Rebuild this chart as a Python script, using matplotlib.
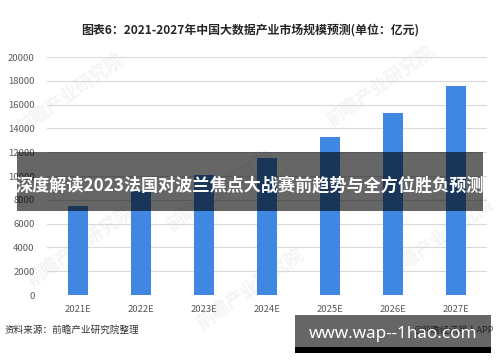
import matplotlib
matplotlib.use('Agg')
import matplotlib.pyplot as plt
from matplotlib.patches import Rectangle

plt.rcParams['font.family'] = ['Noto Sans CJK SC', 'DejaVu Sans']

# data (unit: 亿元)
years = ['2021E', '2022E', '2023E', '2024E', '2025E', '2026E', '2027E']
market_size = [7500, 8750, 10050, 11550, 13300, 15300, 17600]
y_ticks = [0, 2000, 4000, 6000, 8000, 10000, 12000, 14000, 16000, 18000, 20000]

title = '图表6：2021-2027年中国大数据产业市场规模预测(单位：亿元)'
source = '资料来源：前瞻产业研究院整理'
credit = '@前瞻经济学人APP'
banner = '深度解读2023法国对波兰焦点大战赛前趋势与全方位胜负预测'
site = 'www.wap--1hao.com'


def main():
    fig = plt.figure(figsize=(5, 3.62), dpi=100)
    ax = fig.add_axes([0.094, 0.185, 0.88, 0.6575])
    ax.patch.set_visible(False)

    x = range(len(years))
    ax.bar(x, market_size, width=0.32, color='#3f87e0', zorder=3)

    ax.set_ylim(0, 20000)
    ax.set_xlim(-0.5, len(years) - 0.5)
    ax.set_yticks(y_ticks)
    ax.set_yticklabels([str(v) for v in y_ticks])
    ax.set_xticks(list(x))
    ax.set_xticklabels(years)
    ax.tick_params(axis='both', length=0, labelsize=6.8, colors='#595959')
    ax.tick_params(axis='y', pad=9)
    ax.tick_params(axis='x', pad=7)
    ax.grid(axis='y', color='#d9d9d9', linewidth=0.8, zorder=0)
    for s in ax.spines.values():
        s.set_visible(False)

    # faint watermarks behind the plot
    for wx, wy in [(0.14, 0.74), (0.44, 0.47), (0.76, 0.76), (0.16, 0.32), (0.5, 0.2), (0.88, 0.34)]:
        fig.text(wx, wy, '前瞻产业研究院', fontsize=13, color='#f4f4f4', rotation=35,
                 ha='center', va='center', zorder=-1, fontweight='bold')

    fig.text(0.5, 0.917, title, ha='center', va='center', fontsize=8.6,
             fontweight='bold', color='#262626')
    fig.text(0.01, 0.088, source, ha='left', va='center', fontsize=6.9, color='#333333')
    fig.text(0.826, 0.088, credit, ha='left', va='center', fontsize=6.6, color='#595959')

    # dark overlay banner across the middle
    fig.patches.append(Rectangle((17 / 500, 1 - 211 / 362), 466 / 500, 59 / 362,
                                 transform=fig.transFigure, facecolor='black',
                                 alpha=0.6, zorder=5))
    fig.text(0.5, 1 - 185 / 362, banner, ha='center', va='center', fontsize=12.3,
             fontweight='bold', color='white', zorder=6)

    # site banner bottom right
    fig.patches.append(Rectangle((295 / 500, 1 - 347 / 362), 196 / 500, 32 / 362,
                                 transform=fig.transFigure, facecolor='black',
                                 alpha=0.6, zorder=5))
    fig.patches.append(Rectangle((295 / 500, 1 - 353 / 362), 196 / 500, 6 / 362,
                                 transform=fig.transFigure, facecolor='black', zorder=5))
    fig.text(393 / 500, 1 - 334 / 362, site, ha='center', va='center', fontsize=12.3,
             fontweight='bold', color='white', zorder=6, family=['Noto Sans', 'DejaVu Sans'])

    fig.savefig('out.png', dpi=100)


if __name__ == '__main__':
    main()
